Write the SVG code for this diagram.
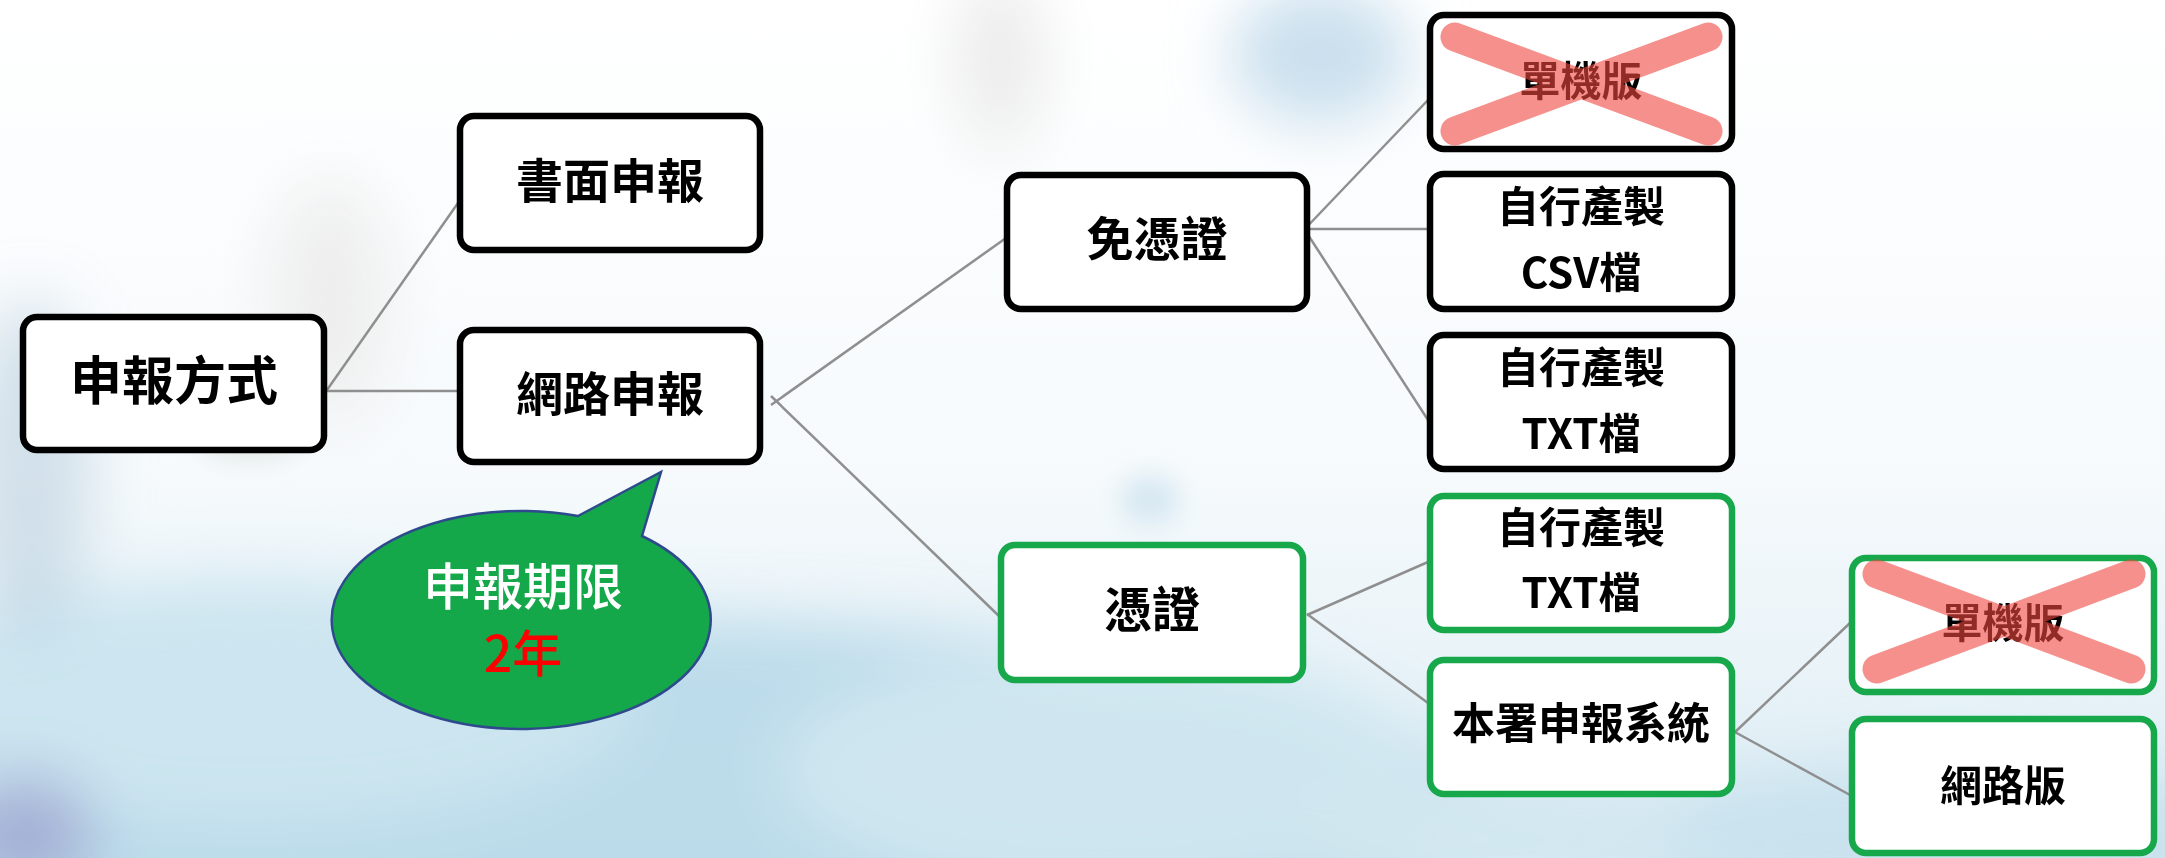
<svg xmlns="http://www.w3.org/2000/svg" width="2165" height="858" viewBox="0 0 2165 858">
<defs>
<style>
.node rect{fill:#fff;stroke-width:6.5}
.blk rect{stroke:#000}
.grn rect{stroke:#17a84c}
.t{font-family:"Noto Sans CJK TC","Noto Sans CJK SC",sans-serif;font-weight:700;fill:#000;text-anchor:middle}
.ct{font-family:"Noto Sans CJK TC","Noto Sans CJK SC",sans-serif;font-weight:500;text-anchor:middle;font-size:50px}
.conn line{stroke:#8f8f8f;stroke-width:2.5}
.x line{stroke:#f04840;stroke-width:29;stroke-linecap:round}
</style>
<filter id="blur" x="-50%" y="-50%" width="200%" height="200%"><feGaussianBlur stdDeviation="30"/></filter>
<filter id="blur2" x="-50%" y="-50%" width="200%" height="200%"><feGaussianBlur stdDeviation="12"/></filter>
<linearGradient id="bg" x1="0" y1="0" x2="0" y2="1">
<stop offset="0" stop-color="#ffffff"/>
<stop offset="0.55" stop-color="#f6fafc"/>
<stop offset="1" stop-color="#dcecf4"/>
</linearGradient>
</defs>
<g id="background">
<rect width="2165" height="858" fill="url(#bg)"/>
<g filter="url(#blur)">
<ellipse cx="650" cy="830" rx="850" ry="210" fill="#b8d9e9" opacity="0.9"/>
<ellipse cx="250" cy="700" rx="380" ry="120" fill="#cce5f0"/>
<ellipse cx="1100" cy="770" rx="320" ry="120" fill="#cfe6f0"/>
<ellipse cx="1950" cy="845" rx="380" ry="80" fill="#c9e2ee"/>
<ellipse cx="1500" cy="840" rx="200" ry="60" fill="#d2e7f0"/>
<ellipse cx="30" cy="470" rx="60" ry="170" fill="#b9cfdd" opacity="0.6"/>
<ellipse cx="25" cy="835" rx="70" ry="60" fill="#a4b1d6"/>
<ellipse cx="1320" cy="55" rx="90" ry="70" fill="#cbe0ee"/>
<ellipse cx="1000" cy="60" rx="45" ry="90" fill="#ececec"/>
<ellipse cx="330" cy="300" rx="60" ry="120" fill="#eeeeee"/>
</g>
<g filter="url(#blur2)">
<ellipse cx="1150" cy="500" rx="30" ry="25" fill="#d7e8f2"/>
<ellipse cx="250" cy="440" rx="50" ry="20" fill="#e2e8e6"/>
</g>
</g>

<g id="connectors" class="conn">
<line x1="327" y1="390" x2="458" y2="203"/>
<line x1="327" y1="391" x2="458" y2="391"/>
<line x1="771" y1="405" x2="1006" y2="238"/>
<line x1="771" y1="396" x2="1000" y2="617"/>
<line x1="1301" y1="233" x2="1428" y2="100"/>
<line x1="1304" y1="229" x2="1428" y2="229"/>
<line x1="1301" y1="224" x2="1428" y2="420"/>
<line x1="1307" y1="615" x2="1428" y2="562"/>
<line x1="1307" y1="614" x2="1428" y2="703"/>
<line x1="1733" y1="734" x2="1850" y2="623"/>
<line x1="1733" y1="731" x2="1850" y2="795"/>
</g>

<g id="n-method" class="node blk">
<rect x="23" y="317" width="301" height="133" rx="14"/>
<text class="t" x="174" y="400" font-size="52">申報方式</text>
</g>
<g id="n-paper" class="node blk">
<rect x="460" y="116" width="300" height="134" rx="14"/>
<text class="t" x="610" y="198" font-size="47">書面申報</text>
</g>
<g id="n-online" class="node blk">
<rect x="460" y="330" width="300" height="132" rx="14"/>
<text class="t" x="610" y="411" font-size="47">網路申報</text>
</g>
<g id="n-nocert" class="node blk">
<rect x="1007" y="175" width="300" height="134" rx="14"/>
<text class="t" x="1157" y="256" font-size="47">免憑證</text>
</g>
<g id="n-standalone1" class="node blk">
<rect x="1430" y="15" width="302" height="134" rx="14"/>
<text class="t" x="1581" y="96" font-size="41">單機版</text>
<g class="x" opacity="0.6">
<line x1="1455" y1="37" x2="1708" y2="131"/>
<line x1="1708" y1="37" x2="1455" y2="131"/>
</g>
</g>
<g id="n-csv" class="node blk">
<rect x="1430" y="174" width="302" height="135" rx="14"/>
<text class="t" x="1581" y="222" font-size="42">自行產製</text>
<text class="t" x="1581" y="288" font-size="42">CSV檔</text>
</g>
<g id="n-txt1" class="node blk">
<rect x="1430" y="335" width="302" height="134" rx="14"/>
<text class="t" x="1581" y="383" font-size="42">自行產製</text>
<text class="t" x="1581" y="449" font-size="42">TXT檔</text>
</g>
<g id="n-cert" class="node grn">
<rect x="1001" y="545" width="302" height="135" rx="14"/>
<text class="t" x="1152" y="627" font-size="48">憑證</text>
</g>
<g id="n-txt2" class="node grn">
<rect x="1430" y="496" width="302" height="134" rx="14"/>
<text class="t" x="1581" y="543" font-size="42">自行產製</text>
<text class="t" x="1581" y="608" font-size="42">TXT檔</text>
</g>
<g id="n-system" class="node grn">
<rect x="1430" y="660" width="302" height="134" rx="14"/>
<text class="t" x="1581" y="739" font-size="43">本署申報系統</text>
</g>
<g id="n-standalone2" class="node grn">
<rect x="1852" y="558" width="302" height="134" rx="14"/>
<text class="t" x="2003" y="638" font-size="41">單機版</text>
<g class="x" opacity="0.6">
<line x1="1877" y1="574" x2="2131" y2="669"/>
<line x1="2131" y1="574" x2="1877" y2="669"/>
</g>
</g>
<g id="n-web" class="node grn">
<rect x="1852" y="719" width="302" height="134" rx="14"/>
<text class="t" x="2003" y="801" font-size="42">網路版</text>
</g>

<g id="callout">
<path d="M 578 516 L 661 472 L 642 536 A 189.5 109 0 1 1 578 516 Z" fill="#14a84b" stroke="#2e4a8c" stroke-width="2.5"/>
<text class="ct" x="523" y="605" fill="#ffffff">申報期限</text>
<text class="ct" x="523" y="672" fill="#ff0000">2年</text>
</g>
</svg>
